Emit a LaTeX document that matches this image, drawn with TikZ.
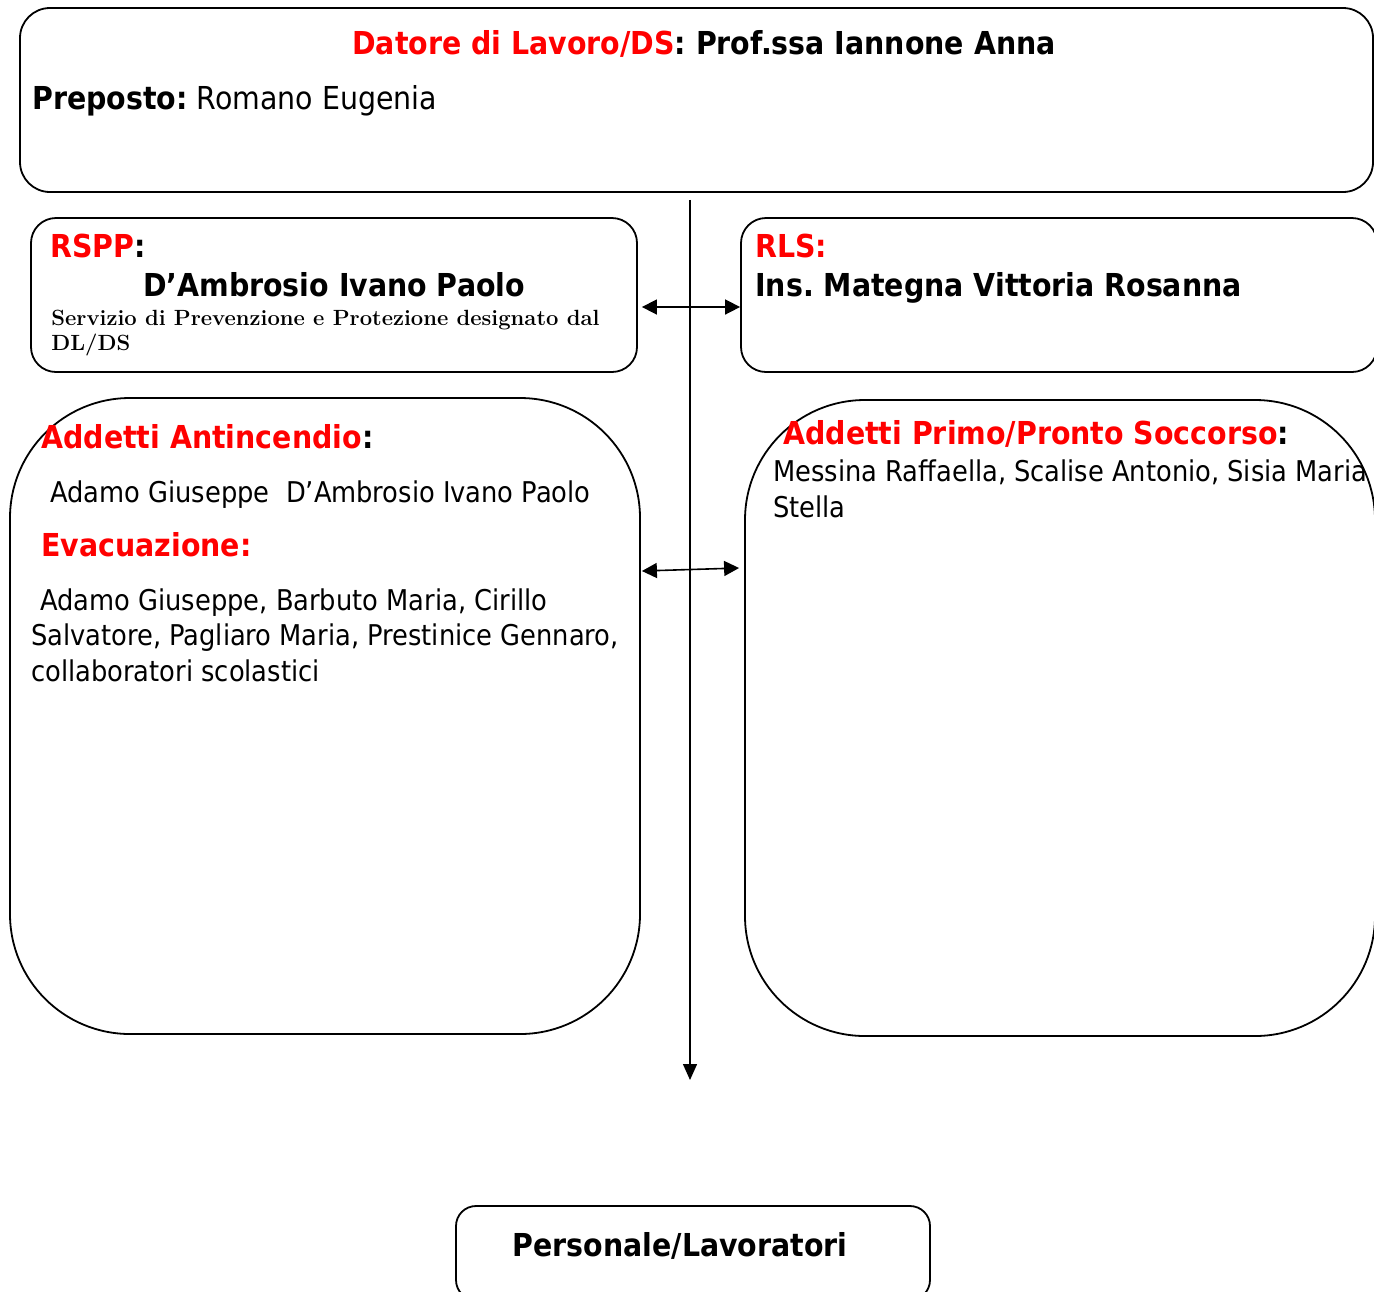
\documentclass[tikz,border=0pt]{standalone}
\usepackage{fontspec}
\newfontfamily\vf{DejaVu Sans Condensed}
\usetikzlibrary{arrows.meta}
\definecolor{rosso}{RGB}{255,0,0}
\def\big{\fontsize{15.8}{19}\selectfont\bfseries}
\frenchspacing

\begin{document}
\begin{tikzpicture}[x=0.5pt,y=-0.5pt,
    box/.style={draw,line width=0.9pt,rounded corners=#1,inner sep=0pt},
    txt/.style={anchor=base west,inner sep=0pt,align=left,
      font=\vf\fontsize{14.3}{18}\selectfont},
    tip/.style={line width=0.8pt,{Triangle[length=7.5pt,width=7.5pt]}-{Triangle[length=7.5pt,width=7.5pt]}}]
  \useasboundingbox (0,0) rectangle (1374,1291);

  % riquadri
  \node[box=15pt,minimum width=676.5pt,minimum height=92pt]  (ds)   at ( 696.5, 100) {};
  \node[box=12.5pt,minimum width=303pt,minimum height=77pt]  (rspp) at ( 334,   295) {};
  \node[box=12.5pt,minimum width=318pt,minimum height=77pt]  (rls)  at (1059,   295) {};
  \node[box=60pt,minimum width=315pt,minimum height=318pt]   (ant)  at ( 325,   716) {};
  \node[box=60pt,minimum width=315pt,minimum height=318pt]   (ps)   at (1060,   718) {};
  \node[box=10pt,minimum width=237pt,minimum height=47pt]    (pers) at ( 693,  1253) {};

  % testi (i nodi su piu righe hanno la base sull'ultima riga)
  \node[txt,anchor=base] (dsT) at (704,54)
    {\big\textcolor{rosso}{Datore di Lavoro/DS}: Prof.ssa Iannone Anna};
  \node[txt] (prep) at (32,109)
    {\fontsize{15.8}{19}\selectfont\textbf{Preposto:} Romano Eugenia};
  \node[txt] (rsppT) at (50,257) {\big\textcolor{rosso}{RSPP}:};
  \node[txt,anchor=base] (rsppN) at (334,296) {\big D’Ambrosio Ivano Paolo};
  \node[txt,font=\rmfamily\bfseries\fontsize{11}{12.5}\selectfont] (rsppS) at (51,350)
    {Servizio di Prevenzione e Protezione designato dal\\DL/DS};
  \node[txt] (rlsT) at (755,257) {\big\textcolor{rosso}{RLS:}};
  \node[txt] (rlsN) at (755,296) {\big Ins. Mategna Vittoria Rosanna};
  \node[txt] (antT) at (41,448) {\big\textcolor{rosso}{Addetti Antincendio}:};
  \node[txt] (antN) at (50,502) {Adamo Giuseppe\ \ D’Ambrosio Ivano Paolo};
  \node[txt] (evT) at (41,556) {\big\textcolor{rosso}{Evacuazione:}};
  \node[txt,font=\vf\fontsize{14.3}{17.75}\selectfont] (evN) at (31,681)
    {\hspace{4.5pt}Adamo Giuseppe, Barbuto Maria, Cirillo\\
     Salvatore, Pagliaro Maria, Prestinice Gennaro,\\
     collaboratori scolastici};
  \node[txt] (psT) at (783,444) {\big\textcolor{rosso}{Addetti Primo/Pronto Soccorso}:};
  \node[txt] (psN) at (773,517) {Messina Raffaella, Scalise Antonio, Sisia Maria\\Stella};
  \node[txt,anchor=base] (persT) at (680,1256) {\big Personale/Lavoratori};

  % frecce
  \coordinate (fine) at (690,1080);
  \draw[line width=0.7pt,-{Triangle[length=8pt,width=7pt]}]
    ([shift={(-6.5,7)}]ds.south) -- (fine);
  \draw[tip] ([shift={(4,12)}]rspp.east) -- ([shift={(0,12)}]rls.west);
  \draw[tip] ([shift={(1,-145)}]ant.east) -- ([shift={(-5,-150)}]ps.west);
\end{tikzpicture}
\end{document}
